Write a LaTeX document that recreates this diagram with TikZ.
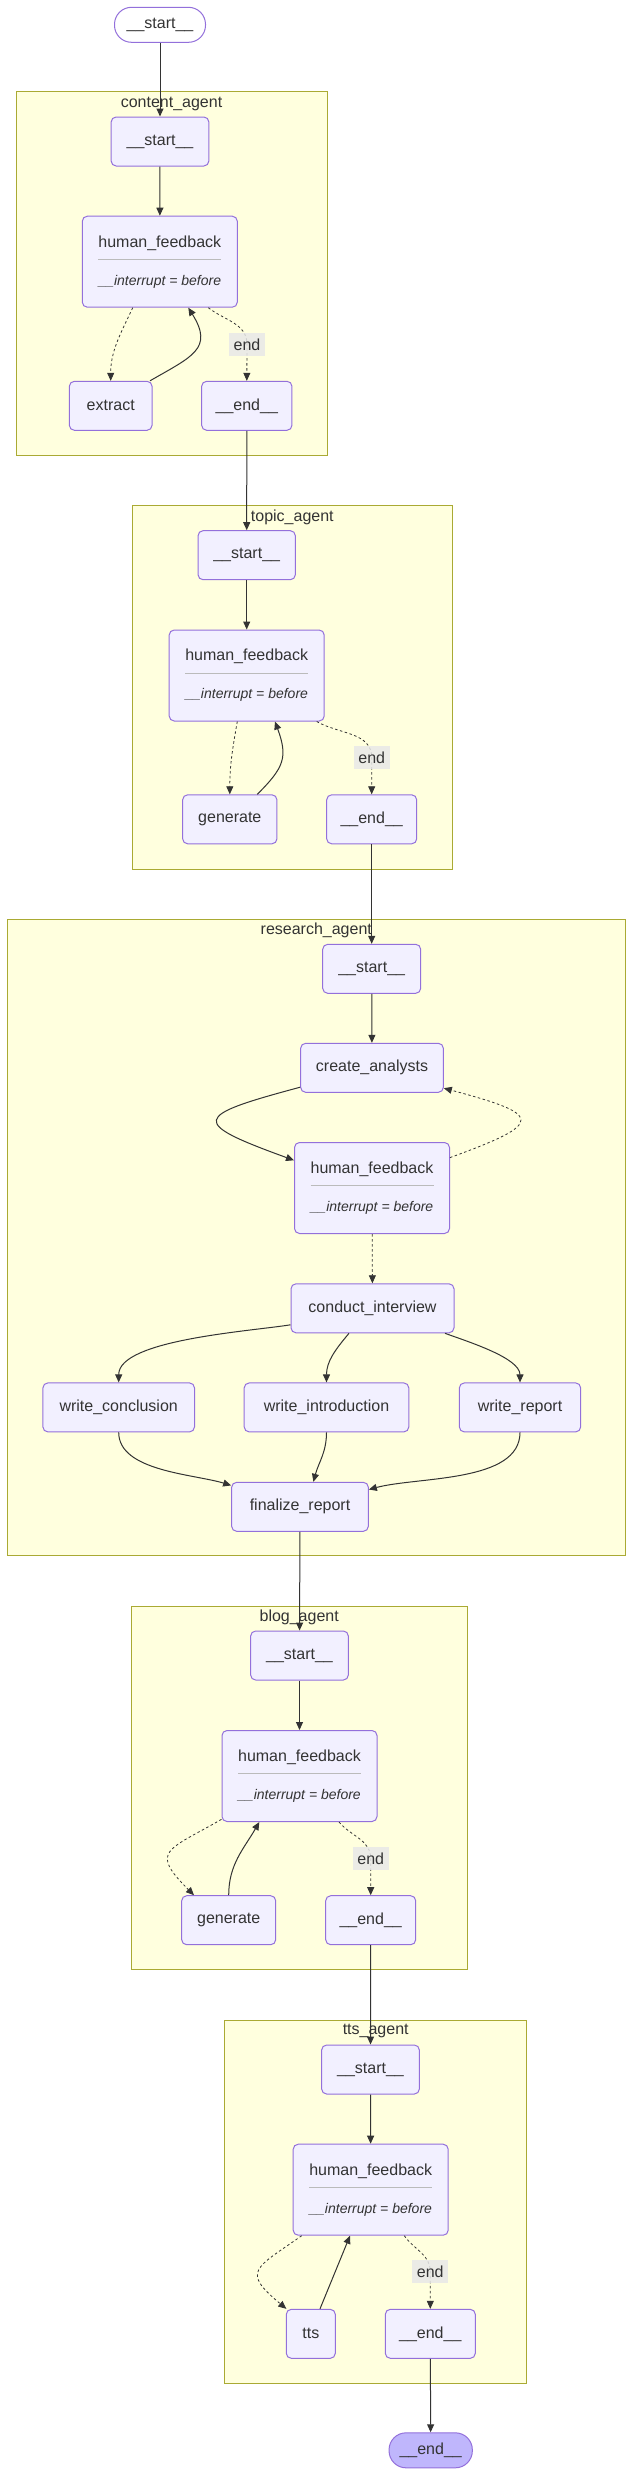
\documentclass[tikz,border=0pt]{standalone}
\usepackage{fontspec}
\setmainfont{Liberation Sans}
\usetikzlibrary{calc, arrows.meta}
\definecolor{NodeFill}{HTML}{F2F0FF}
\definecolor{NodeLine}{HTML}{9370DB}
\definecolor{ClusterFill}{HTML}{FFFFDE}
\definecolor{ClusterLine}{HTML}{AAAA33}
\definecolor{EdgeGrey}{HTML}{333333}
\definecolor{TextGrey}{HTML}{333333}
\definecolor{LabelGrey}{HTML}{E8E8E8}
\definecolor{SepGrey}{HTML}{BBBBBB}
\definecolor{EndFill}{HTML}{BFB6FC}
\newcommand{\BoxHeight}{49pt}
\newcommand{\FeedbackText}{human\_feedback\\[-6.4pt]\textcolor{SepGrey}{\rule{123pt}{0.8pt}}\\[6.4pt]{\fontsize{14}{17}\selectfont\itshape \_\_interrupt = before}}
\tikzset{GraphNode/.style={
    rectangle,
    rounded corners=5pt,
    inner sep=0pt,
    minimum height=\BoxHeight,
    draw=NodeLine,
    fill=NodeFill,
    line width=1pt,
    text=TextGrey,
    font=\fontsize{16}{19}\selectfont
    }
}
\tikzset{FeedbackNode/.style={
    GraphNode,
    minimum width=155pt,
    minimum height=91pt,
    align=center
    }
}
\tikzset{TerminalNode/.style={
    GraphNode,
    rounded corners=17pt,
    minimum height=35pt
    }
}
\tikzset{ClusterBox/.style={
    rectangle,
    inner sep=0pt,
    draw=ClusterLine,
    fill=ClusterFill,
    line width=1pt
    }
}
\tikzset{ClusterTitle/.style={
    inner sep=0pt,
    text=TextGrey,
    font=\fontsize{16}{19}\selectfont
    }
}
\tikzset{EndLabel/.style={
    inner sep=0pt,
    minimum width=36pt,
    minimum height=23pt,
    fill=LabelGrey,
    fill opacity=0.85,
    text opacity=1,
    text=TextGrey,
    font=\fontsize{16}{19}\selectfont
    }
}
\tikzset{CondEdge/.style={
    dash pattern=on 2.5pt off 2.5pt,
    line width=0.8pt
    }
}
\begin{document}
\begin{tikzpicture}[x=1pt, y=1pt, draw=EdgeGrey, line width=1pt, >={Triangle[length=8pt,width=7pt]}]
    \useasboundingbox (0,0) rectangle (633,-2476);

    % content_agent
    \node (content) [ClusterBox, minimum width=311pt, minimum height=364pt] at (171.8,-273.7) {};
    \node (contentTitle) [ClusterTitle] at (171.5,-103.5) {content\_agent};

    \node (Start) [TerminalNode, fill=white, minimum width=91pt] at (160,-24.8) {\_\_start\_\_};
    \node (Cstart) [GraphNode, minimum width=97.7pt] at (160,-141.5) {\_\_start\_\_};
    \node (Chf) [FeedbackNode] at (159.8,-261.7) {\FeedbackText};
    \node (Cextract) [GraphNode, minimum width=82.7pt] at (110.7,-405.8) {extract};
    \node (Cend) [GraphNode, minimum width=90.3pt] at (246.8,-405.8) {\_\_end\_\_};
    \coordinate (Cmid) at (247,-344.3);

    \draw[->] (Start) -- (Cstart);
    \draw[->] (Cstart) -- (Chf);
    \draw[->, CondEdge] ($(Chf.south)+(-27.1,0)$) to[out=-115, in=90] (Cextract.north);
    \draw[->] ($(Cextract.north)+(39.3,0)$) to[out=30, in=-58, looseness=1.5] ($(Chf.south)+(28.5,0)$);
    \draw[->, CondEdge] ($(Chf.south)+(48.5,0)$) to[out=-38, in=90] (Cmid) -- (Cend.north);
    \node (Clabel) [EndLabel] at (Cmid) {end};

    % topic_agent
    \node (topic) [ClusterBox, minimum width=320pt, minimum height=364.3pt] at (292.3,-687.2) {};
    \node (topicTitle) [ClusterTitle] at (292.3,-517) {topic\_agent};

    \node (Tstart) [GraphNode, minimum width=97.3pt] at (246.7,-555.2) {\_\_start\_\_};
    \node (Thf) [FeedbackNode] at (246.7,-675.5) {\FeedbackText};
    \node (Tgenerate) [GraphNode, minimum width=94.3pt] at (229.8,-819.3) {generate};
    \node (Tend) [GraphNode, minimum width=90pt] at (371.7,-819.3) {\_\_end\_\_};
    \coordinate (Tmid) at (371.7,-757.7);

    \draw[->] (Cend) -- (Tstart);
    \draw[->] (Tstart) -- (Thf);
    \draw[->, CondEdge] ($(Thf.south)+(-9.4,0)$) to[out=-100, in=90] (Tgenerate.north);
    \draw[->] ($(Tgenerate.north)+(27.5,0)$) to[out=45, in=-70, looseness=1.3] ($(Thf.south)+(28.3,0)$);
    \draw[->, CondEdge] ($(Thf.south)+(70,0)$) to[out=-30, in=90] (Tmid) -- (Tend.north);
    \node (Tlabel) [EndLabel] at (Tmid) {end};

    % research_agent
    \node (research) [ClusterBox, minimum width=618pt, minimum height=636.5pt] at (316.3,-1237.6) {};
    \node (researchTitle) [ClusterTitle] at (316.3,-930.5) {research\_agent};

    \node (Rstart) [GraphNode, minimum width=98pt] at (371.7,-968.8) {\_\_start\_\_};
    \node (Rcreate) [GraphNode, minimum width=142.7pt] at (372,-1067.8) {create\_analysts};
    \node (Rhf) [FeedbackNode] at (372,-1188) {\FeedbackText};
    \node (Rconduct) [GraphNode, minimum width=163pt] at (372.5,-1308.3) {conduct\_interview};
    \node (Rconclusion) [GraphNode, minimum width=151.6pt] at (118.7,-1407.4) {write\_conclusion};
    \node (Rintro) [GraphNode, minimum width=164.6pt] at (326.5,-1407.4) {write\_introduction};
    \node (Rreport) [GraphNode, minimum width=121.3pt] at (520,-1407.4) {write\_report};
    \node (Rfinal) [GraphNode, minimum width=136.7pt] at (300,-1506.8) {finalize\_report};

    \draw[->] (Tend) -- (Rstart);
    \draw[->] (Rstart) -- (Rcreate);
    \draw[->] ($(Rcreate.south west)+(0,5.6)$) to[out=195, in=160, looseness=3.9] ($(Rhf.north west)+(0,-18.3)$);
    \draw[->, CondEdge] ($(Rhf.north east)+(0,-15.6)$) to[out=20, in=-15, looseness=3.75] ($(Rcreate.south east)+(0,4.6)$);
    \draw[->, CondEdge] (Rhf) -- (Rconduct);
    \draw[->] ($(Rconduct.south west)+(0,8.5)$) to[out=189, in=90, looseness=0.6] (Rconclusion.north);
    \draw[->] ($(Rconduct.south)+(-23.5,0)$) to[out=-130, in=90] (Rintro.north);
    \draw[->] ($(Rconduct.south east)+(-9.5,0)$) to[out=-20, in=90, looseness=0.7] (Rreport.north);
    \draw[->] (Rconclusion.south) to[out=-90, in=163, looseness=0.8] ($(Rfinal.north west)+(0,-3.6)$);
    \draw[->] (Rintro.south) to[out=-90, in=75] ($(Rfinal.north)+(13.4,0)$);
    \draw[->] (Rreport.south) to[out=-90, in=15, looseness=0.8] ($(Rfinal.north east)+(0,-7.7)$);

    % blog_agent
    \node (blog) [ClusterBox, minimum width=335.7pt, minimum height=363pt] at (299.2,-1787.5) {};
    \node (blogTitle) [ClusterTitle] at (299.2,-1617.3) {blog\_agent};

    \node (Bstart) [GraphNode, minimum width=97.7pt] at (299.5,-1655.5) {\_\_start\_\_};
    \node (Bhf) [FeedbackNode] at (299.5,-1776) {\FeedbackText};
    \node (Bgenerate) [GraphNode, minimum width=94pt] at (228.7,-1920.2) {generate};
    \node (Bend) [GraphNode, minimum width=90pt] at (370.7,-1920.2) {\_\_end\_\_};
    \coordinate (Bmid) at (370.7,-1858.7);

    \draw[->] (Rfinal) -- (Bstart);
    \draw[->] (Bstart) -- (Bhf);
    \draw[->, CondEdge] ($(Bhf.south west)+(0,2.7)$) to[out=210, in=135, looseness=2] ($(Bgenerate.north)+(-34.7,0)$);
    \draw[->] (Bgenerate.north) to[out=90, in=-120] ($(Bhf.south)+(-40.2,0)$);
    \draw[->, CondEdge] ($(Bhf.south)+(39.5,0)$) to[out=-50, in=90] (Bmid) -- (Bend.north);
    \node (Blabel) [EndLabel] at (Bmid) {end};

    % tts_agent
    \node (tts) [ClusterBox, minimum width=302pt, minimum height=363.3pt] at (375.7,-2201.7) {};
    \node (ttsTitle) [ClusterTitle] at (375.7,-2031.3) {tts\_agent};

    \node (Sstart) [GraphNode, minimum width=97.7pt] at (370.5,-2069.5) {\_\_start\_\_};
    \node (Shf) [FeedbackNode] at (370.7,-2189.7) {\FeedbackText};
    \node (Stts) [GraphNode, minimum width=49pt] at (310.8,-2333.8) {tts};
    \node (Send) [GraphNode, minimum width=90pt] at (430.3,-2333.8) {\_\_end\_\_};
    \coordinate (Smid) at (430.3,-2271.7);
    \node (End) [TerminalNode, fill=EndFill, minimum width=83.3pt] at (430.7,-2450.3) {\_\_end\_\_};

    \draw[->] (Bend) -- (Sstart);
    \draw[->] (Sstart) -- (Shf);
    \draw[->, CondEdge] ($(Shf.south)+(-69,0)$) to[out=215, in=140, looseness=2] ($(Stts.north)+(-24.5,0)$);
    \draw[->] ($(Stts.north)+(9.2,0)$) -- ($(Shf.south)+(-20.7,0)$);
    \draw[->, CondEdge] ($(Shf.south)+(33.6,0)$) to[out=-55, in=90] (Smid) -- (Send.north);
    \node (Slabel) [EndLabel] at (Smid) {end};
    \draw[->] (Send) -- (End);

\end{tikzpicture}
\end{document}
